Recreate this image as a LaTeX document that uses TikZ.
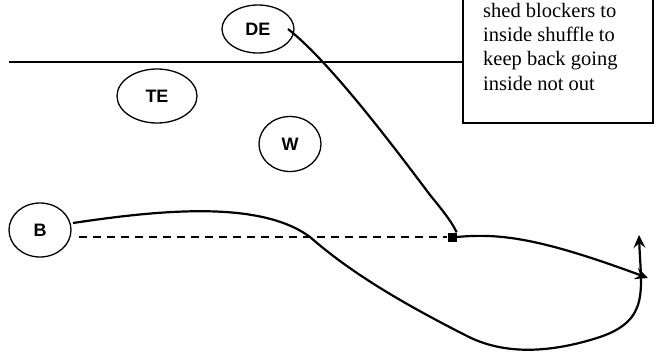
\documentclass[tikz,border=0pt]{standalone}
\usepackage{fontspec}
\setmainfont{Liberation Serif}
\newfontfamily\playerfont{Liberation Sans}
\usepackage{tikz}
\usetikzlibrary{shapes.geometric, arrows.meta}

\tikzset{
  player/.style={draw, ellipse, line width=1.3pt, inner sep=0pt, font=\playerfont\bfseries\fontsize{18}{21}\selectfont},
  route/.style={line width=2.2pt},
  routearrow/.style={route, -{Stealth[length=13pt, width=12pt, inset=5pt]}}
}

\begin{document}
\begin{tikzpicture}[x=1pt, y=-1pt]
\useasboundingbox (0,0) rectangle (657,360);
% players
\node[player, minimum width=72pt, minimum height=48pt] (DE) at (258,29) {DE};
\node[player, minimum width=80pt, minimum height=54pt] (TE) at (157,96) {TE};
\node[player, minimum width=62pt, minimum height=55pt] (W) at (290,144) {W};
\node[player, minimum width=62pt, minimum height=54pt] (B) at (40,230) {B};
% line of scrimmage and note
\coordinate (los) at (9,62);
\coordinate (boxleft) at (463,62);
\draw[line width=1.6pt] (los) -- (boxleft);
\draw[line width=1.6pt] (463,-5) rectangle (653,123);
\node[anchor=base west, align=left, inner sep=0pt, font=\fontsize{20.5}{24.3}\selectfont] (note) at (483,90)
  {shed blockers to\\inside shuffle to\\keep back going\\inside not out};
% contact point
\node[fill=black, minimum size=9pt, inner sep=0pt] (hit) at (452,237) {};
\coordinate (DEstart) at (288,29);
\coordinate (endout) at (648,278);
\coordinate (endup) at (639,235);
\coordinate (Bstart) at (73,223);
% routes
\draw[route] (DEstart) .. controls (325,58) and (380,128) .. (430,195)
  .. controls (455,225) and (455,230) .. (hit.north east);
\draw[route, dashed, dash pattern=on 8pt off 6pt] (79,237) -- (hit.west);
\draw[routearrow] (hit.east) .. controls (500,233) and (540,238) .. (endout);
\draw[routearrow] (Bstart) .. controls (160,210) and (260,200) .. (310,237)
  .. controls (350,272) and (400,302) .. (467,336)
  .. controls (510,358) and (560,350) .. (600,337)
  .. controls (650,320) and (641,290) .. (endup);
\end{tikzpicture}
\end{document}
